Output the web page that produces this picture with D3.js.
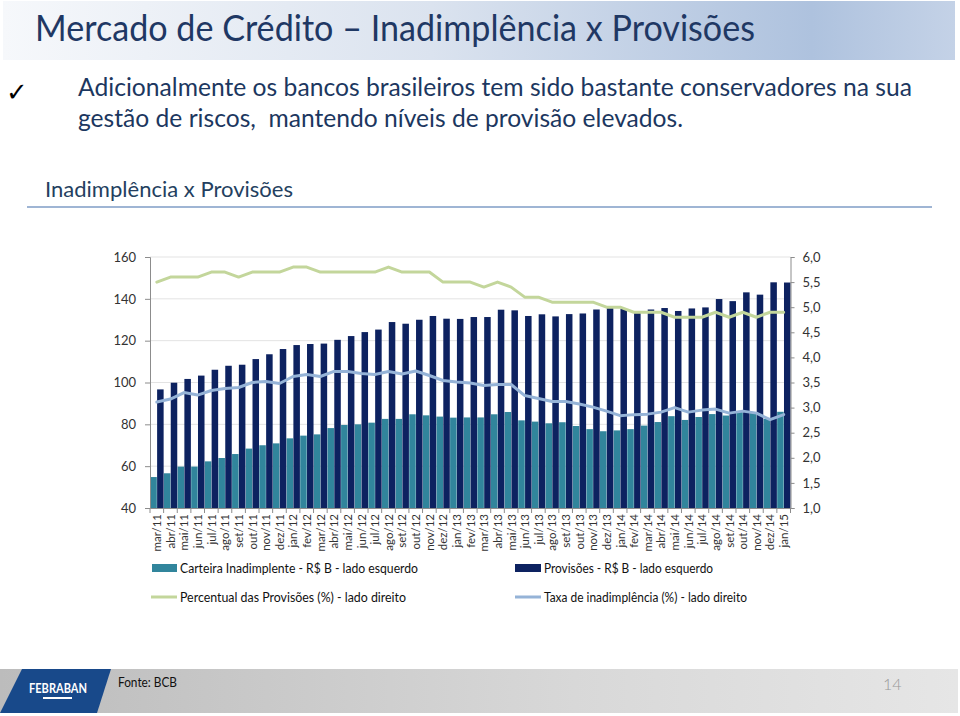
<!DOCTYPE html>
<html><head><meta charset="utf-8">
<script src="https://cdn.jsdelivr.net/npm/d3@7"></script>
<style>
html,body{margin:0;padding:0;background:#fff;}
svg{display:block;font-family:Lato,"Open Sans",sans-serif;}
text{white-space:pre;}
</style></head>
<body>
<svg id="c" width="960" height="716"></svg>
<script>
const categories = ["mar/11","abr/11","mai/11","jun/11","jul/11","ago/11","set/11","out/11","nov/11","dez/11",
 "jan/12","fev/12","mar/12","abr/12","mai/12","jun/12","jul/12","ago/12","set/12","out/12","nov/12","dez/12",
 "jan/13","fev/13","mar/13","abr/13","mai/13","jun/13","jul/13","ago/13","set/13","out/13","nov/13","dez/13",
 "jan/14","fev/14","mar/14","abr/14","mai/14","jun/14","jul/14","ago/14","set/14","out/14","nov/14","dez/14",
 "jan/15"];
const carteiraInadimplente = [54.8,56.6,59.8,59.8,62.3,63.9,65.8,68.4,70.0,70.9,73.3,74.6,75.2,78.2,79.7,80.0,80.8,82.6,82.6,84.8,84.3,83.7,83.2,83.3,83.3,84.8,85.9,81.9,81.3,80.5,81.0,79.2,77.7,76.7,77.1,77.7,79.4,81.1,83.9,82.1,83.5,84.9,84.2,85.9,85.4,82.6,86.0];
const provisoes = [96.7,99.9,101.7,103.3,106.1,108.0,108.5,111.2,113.5,116.0,117.9,118.4,118.6,120.4,122.2,124.1,125.3,128.9,128.1,130.0,131.8,130.5,130.4,131.3,131.3,134.8,134.5,131.8,132.6,131.6,132.7,133.0,134.9,136.0,135.3,133.2,134.9,135.6,134.2,135.4,135.9,139.9,138.9,143.1,142.0,147.9,147.8];
const percentualProvisoes = [5.5,5.6,5.6,5.6,5.7,5.7,5.6,5.7,5.7,5.7,5.8,5.8,5.7,5.7,5.7,5.7,5.7,5.8,5.7,5.7,5.7,5.5,5.5,5.5,5.4,5.5,5.4,5.2,5.2,5.1,5.1,5.1,5.1,5.0,5.0,4.9,4.9,4.9,4.8,4.8,4.8,4.9,4.8,4.9,4.8,4.9,4.9];
const taxaInadimplencia = [3.11,3.17,3.30,3.25,3.34,3.38,3.40,3.50,3.52,3.48,3.62,3.66,3.62,3.72,3.72,3.68,3.66,3.72,3.67,3.73,3.64,3.54,3.51,3.49,3.44,3.46,3.46,3.24,3.18,3.12,3.12,3.07,3.01,2.93,2.84,2.86,2.87,2.91,3.00,2.91,2.95,2.97,2.89,2.93,2.89,2.76,2.86];
const leftTicks = [40,60,80,100,120,140,160];
const rightTicks = [1.0,1.5,2.0,2.5,3.0,3.5,4.0,4.5,5.0,5.5,6.0];
const legendLabels = ["Carteira Inadimplente - R$ B - lado esquerdo","Provisões - R$ B - lado esquerdo","Percentual das Provisões (%) - lado direito","Taxa de inadimplência (%) - lado direito"];

const svg = d3.select("#c");
const defs = svg.append("defs");

function fit(sel, w){ const n = sel.node(); const L = n.getComputedTextLength(); if (L > 0) sel.attr("textLength", w).attr("lengthAdjust","spacingAndGlyphs"); return sel; }

// Header band
const hg = defs.append("linearGradient").attr("id","hg");
hg.append("stop").attr("offset","0").attr("stop-color","#f6f8fb");
hg.append("stop").attr("offset","0.45").attr("stop-color","#dbe3ef");
hg.append("stop").attr("offset","0.85").attr("stop-color","#aec2de");
hg.append("stop").attr("offset","1").attr("stop-color","#c4d2e7");
svg.append("rect").attr("x",3).attr("y",1).attr("width",952).attr("height",59).attr("fill","url(#hg)");

fit(svg.append("text").attr("x",35).attr("y",41).attr("font-size",37).attr("fill","#1f3864")
  .text("Mercado de Crédito – Inadimplência x Provisões"), 720);

svg.append("text").attr("x",6).attr("y",101).attr("font-size",26).attr("font-family","DejaVu Sans").attr("fill","#000").text("✓");
fit(svg.append("text").attr("x",78).attr("y",96).attr("font-size",25).attr("fill","#1c3760")
  .text("Adicionalmente os bancos brasileiros tem sido bastante conservadores na sua"), 834);
fit(svg.append("text").attr("x",78).attr("y",127).attr("font-size",25).attr("fill","#1c3760")
  .text("gestão de riscos,  mantendo níveis de provisão elevados."), 605);

fit(svg.append("text").attr("x",45).attr("y",197).attr("font-size",22).attr("fill","#243f60")
  .text("Inadimplência x Provisões"), 248);
svg.append("line").attr("x1",27).attr("x2",932).attr("y1",207).attr("y2",207).attr("stroke","#7f9cc6").attr("stroke-width",1.5);

// Chart
const x0 = 150, x1 = 790.5, yTop = 257, yBot = 508;
const x = d3.scaleBand().domain(categories).range([x0,x1]).padding(0);
const yL = d3.scaleLinear().domain([40,160]).range([yBot,yTop]);
const yR = d3.scaleLinear().domain([1,6]).range([yBot,yTop]);
const bw = x.bandwidth();

// gridlines
svg.append("g").selectAll("line").data(leftTicks.filter(d=>d>40)).join("line")
  .attr("x1",x0).attr("x2",x1).attr("y1",d=>yL(d)).attr("y2",d=>yL(d))
  .attr("stroke","#e3e3e3").attr("stroke-width",1);

// bars
const barW = bw*0.478;
svg.append("g").selectAll("rect").data(categories).join("rect")
  .attr("x",(d)=>x(d)+0.3).attr("width",barW)
  .attr("y",(d,i)=>yL(carteiraInadimplente[i])).attr("height",(d,i)=>yBot-yL(carteiraInadimplente[i]))
  .attr("fill","#31859c");
svg.append("g").selectAll("rect").data(categories).join("rect")
  .attr("x",(d)=>x(d)+0.3+barW+0.3).attr("width",barW)
  .attr("y",(d,i)=>yL(provisoes[i])).attr("height",(d,i)=>yBot-yL(provisoes[i]))
  .attr("fill","#0d2260");

// lines
const lineR = d3.line().x((d,i)=>x(categories[i])+bw/2).y(d=>yR(d));
svg.append("path").datum(percentualProvisoes).attr("d",lineR).attr("fill","none")
  .attr("stroke","#c3d69b").attr("stroke-width",3).attr("stroke-linejoin","round").attr("stroke-linecap","round");
svg.append("path").datum(taxaInadimplencia).attr("d",lineR).attr("fill","none")
  .attr("stroke","#95b3d7").attr("stroke-width",3).attr("stroke-linejoin","round").attr("stroke-linecap","round");

// axes
const axisColor = "#8c8c8c";
const gL = svg.append("g").attr("transform",`translate(${x0},0)`)
  .call(d3.axisLeft(yL).tickValues(leftTicks).tickSize(5).tickPadding(9).tickFormat(d3.format("d")));
const gR = svg.append("g").attr("transform",`translate(${x1},0)`)
  .call(d3.axisRight(yR).tickValues(rightTicks).tickSize(4).tickPadding(8).tickFormat(d=>d3.format(".1f")(d).replace(".",",")));
[gL,gR].forEach(g=>{
  g.select(".domain").attr("stroke",axisColor);
  g.selectAll(".tick line").attr("stroke",axisColor);
  g.selectAll(".tick text").attr("font-size",13).attr("fill","#333").attr("font-family","Lato");
});
const gX = svg.append("g").attr("transform",`translate(0,${yBot})`)
  .call(d3.axisBottom(x).tickSize(0).tickPadding(0));
gX.select(".domain").attr("stroke",axisColor);
gX.selectAll(".tick text").attr("font-size",11.5).attr("fill","#333").attr("font-family","Lato")
  .attr("text-anchor","end").attr("transform","rotate(-90)").attr("x",-6).attr("y",0).attr("dy","0.38em");
svg.append("g").selectAll("line").data(categories.concat([null])).join("line")
  .attr("x1",(d)=>d===null?x1:x(d)).attr("x2",(d)=>d===null?x1:x(d))
  .attr("y1",yBot).attr("y2",yBot+5).attr("stroke",axisColor);

// legend
const lg = svg.append("g").attr("font-size",13.5).attr("fill","#111");
lg.append("rect").attr("x",152).attr("y",564).attr("width",25).attr("height",8).attr("fill","#31859c");
lg.append("rect").attr("x",515).attr("y",564).attr("width",26).attr("height",8).attr("fill","#0d2260");
lg.append("line").attr("x1",151).attr("x2",177).attr("y1",597).attr("y2",597).attr("stroke","#c3d69b").attr("stroke-width",3);
lg.append("line").attr("x1",515).attr("x2",541).attr("y1",597).attr("y2",597).attr("stroke","#95b3d7").attr("stroke-width",3);
fit(lg.append("text").attr("x",180).attr("y",573).text(legendLabels[0]),238);
fit(lg.append("text").attr("x",544).attr("y",573).text(legendLabels[1]),169);
fit(lg.append("text").attr("x",180).attr("y",602).text(legendLabels[2]),226);
fit(lg.append("text").attr("x",544).attr("y",602).text(legendLabels[3]),203);

// footer
const fg = defs.append("linearGradient").attr("id","fg");
fg.append("stop").attr("offset","0").attr("stop-color","#bcbcbc");
fg.append("stop").attr("offset","0.6").attr("stop-color","#d8d8d8");
fg.append("stop").attr("offset","1").attr("stop-color","#e6e6e6");
svg.append("rect").attr("x",0).attr("y",669).attr("width",958).attr("height",44).attr("fill","url(#fg)");
svg.append("polygon").attr("points","22,669 111,669 97,713 0,713").attr("fill","#18498a");
fit(svg.append("text").attr("x",29).attr("y",693).attr("font-size",13).attr("font-weight","bold").attr("fill","#fff").text("FEBRABAN"),58);
svg.append("rect").attr("x",43).attr("y",697).attr("width",29).attr("height",2).attr("fill","#fff");
fit(svg.append("text").attr("x",118).attr("y",687).attr("font-size",13.5).attr("fill","#111").text("Fonte: BCB"),59);
svg.append("text").attr("x",883).attr("y",690).attr("font-size",16).attr("font-weight",300).attr("fill","#999").text("14");
</script>
</body></html>
